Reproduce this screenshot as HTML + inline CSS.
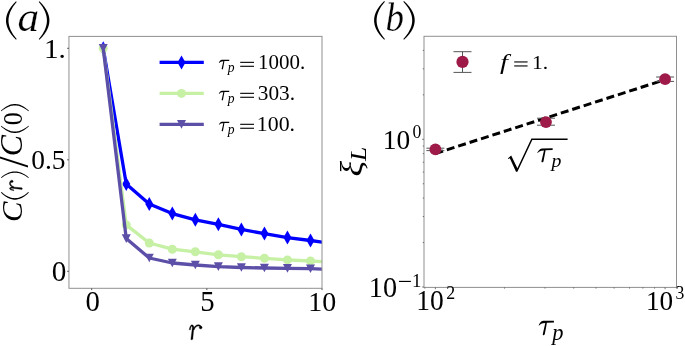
<!DOCTYPE html>
<html><head><meta charset="utf-8"><style>
html,body{margin:0;padding:0;background:#fff;width:685px;height:346px;overflow:hidden}
svg{display:block;font-family:"Liberation Serif",serif}
.t{filter:grayscale(1)}
#pa_a text,#pb_b text{stroke:#fff;stroke-width:0.6px;vector-effect:non-scaling-stroke}
</style></head><body>
<svg width="685" height="346" viewBox="0 0 685 346">
<rect width="685" height="346" fill="#fff"/>
<path d="M16.00,1.30 L14.62,2.67 L13.35,4.04 L12.17,5.41 L11.10,6.79 L10.13,8.16 L9.27,9.53 L8.50,10.90 L7.84,12.27 L7.28,13.64 L6.82,15.01 L6.46,16.39 L6.20,17.76 L6.05,19.13 L6.00,20.50 L6.05,21.87 L6.20,23.24 L6.46,24.61 L6.82,25.99 L7.28,27.36 L7.84,28.73 L8.50,30.10 L9.27,31.47 L10.13,32.84 L11.10,34.21 L12.17,35.59 L13.35,36.96 L14.62,38.33 L16.00,39.70 L16.69,38.98 L15.46,37.52 L14.34,36.07 L13.33,34.64 L12.43,33.23 L11.63,31.84 L10.93,30.48 L10.33,29.15 L9.82,27.84 L9.40,26.57 L9.07,25.31 L8.82,24.09 L8.64,22.88 L8.53,21.69 L8.50,20.50 L8.53,19.31 L8.64,18.12 L8.82,16.91 L9.07,15.69 L9.40,14.43 L9.82,13.16 L10.33,11.85 L10.93,10.52 L11.63,9.16 L12.43,7.77 L13.33,6.36 L14.34,4.93 L15.46,3.48 L16.69,2.02 Z" fill="#000"/><path d="M39.50,1.30 L40.86,2.67 L42.13,4.04 L43.29,5.41 L44.35,6.79 L45.31,8.16 L46.17,9.53 L46.92,10.90 L47.58,12.27 L48.14,13.64 L48.59,15.01 L48.95,16.39 L49.20,17.76 L49.35,19.13 L49.40,20.50 L49.35,21.87 L49.20,23.24 L48.95,24.61 L48.59,25.99 L48.14,27.36 L47.58,28.73 L46.92,30.10 L46.17,31.47 L45.31,32.84 L44.35,34.21 L43.29,35.59 L42.13,36.96 L40.86,38.33 L39.50,39.70 L38.80,38.98 L40.02,37.52 L41.13,36.07 L42.13,34.64 L43.02,33.24 L43.81,31.85 L44.50,30.49 L45.09,29.16 L45.59,27.85 L46.01,26.57 L46.34,25.32 L46.59,24.09 L46.76,22.88 L46.87,21.69 L46.90,20.50 L46.87,19.31 L46.76,18.12 L46.59,16.91 L46.34,15.68 L46.01,14.43 L45.59,13.15 L45.09,11.84 L44.50,10.51 L43.81,9.15 L43.02,7.76 L42.13,6.36 L41.13,4.93 L40.02,3.48 L38.80,2.02 Z" fill="#000"/><path d="M384.20,1.00 L382.81,2.38 L381.52,3.76 L380.34,5.15 L379.25,6.53 L378.27,7.91 L377.40,9.29 L376.62,10.68 L375.96,12.06 L375.39,13.44 L374.92,14.82 L374.56,16.20 L374.31,17.59 L374.15,18.97 L374.10,20.35 L374.15,21.73 L374.31,23.11 L374.56,24.50 L374.92,25.88 L375.39,27.26 L375.96,28.64 L376.62,30.03 L377.40,31.41 L378.27,32.79 L379.25,34.17 L380.34,35.55 L381.52,36.94 L382.81,38.32 L384.20,39.70 L384.89,38.98 L383.65,37.50 L382.51,36.05 L381.49,34.61 L380.58,33.18 L379.77,31.79 L379.06,30.42 L378.45,29.07 L377.94,27.76 L377.52,26.47 L377.18,25.21 L376.92,23.97 L376.74,22.75 L376.64,21.55 L376.60,20.35 L376.64,19.15 L376.74,17.95 L376.92,16.73 L377.18,15.49 L377.52,14.23 L377.94,12.94 L378.45,11.63 L379.06,10.28 L379.77,8.91 L380.58,7.52 L381.49,6.09 L382.51,4.65 L383.65,3.20 L384.89,1.72 Z" fill="#000"/><path d="M404.00,1.00 L405.47,2.38 L406.84,3.76 L408.09,5.15 L409.24,6.53 L410.28,7.91 L411.21,9.29 L412.02,10.68 L412.73,12.06 L413.34,13.44 L413.83,14.82 L414.21,16.20 L414.48,17.59 L414.65,18.97 L414.70,20.35 L414.65,21.73 L414.48,23.11 L414.21,24.50 L413.83,25.88 L413.34,27.26 L412.73,28.64 L412.02,30.03 L411.21,31.41 L410.28,32.79 L409.24,34.17 L408.09,35.55 L406.84,36.94 L405.47,38.32 L404.00,39.70 L403.33,38.96 L404.66,37.48 L405.87,36.02 L406.97,34.57 L407.95,33.15 L408.81,31.75 L409.57,30.37 L410.22,29.03 L410.77,27.71 L411.22,26.43 L411.58,25.17 L411.86,23.94 L412.05,22.73 L412.16,21.54 L412.20,20.35 L412.16,19.16 L412.05,17.97 L411.86,16.76 L411.58,15.53 L411.22,14.27 L410.77,12.99 L410.22,11.67 L409.57,10.33 L408.81,8.95 L407.95,7.55 L406.97,6.13 L405.87,4.68 L404.66,3.22 L403.33,1.74 Z" fill="#000"/>
<defs><clipPath id="ca"><rect x="69" y="36.4" width="253" height="252"/></clipPath></defs>
<g clip-path="url(#ca)" stroke-linejoin="round">
<polyline points="103.22,48.30 126.25,184.00 149.28,204.00 172.31,213.60 195.34,219.80 218.37,224.30 241.39,229.40 264.43,233.60 287.45,237.60 310.49,240.50 333.51,243.60" fill="none" stroke="#0000ff" stroke-width="3.3"/>
<path d="M103.22,41.30 L107.22,48.30 L103.22,55.30 L99.22,48.30Z" fill="#0000ff"/>
<path d="M126.25,177.00 L130.25,184.00 L126.25,191.00 L122.25,184.00Z" fill="#0000ff"/>
<path d="M149.28,197.00 L153.28,204.00 L149.28,211.00 L145.28,204.00Z" fill="#0000ff"/>
<path d="M172.31,206.60 L176.31,213.60 L172.31,220.60 L168.31,213.60Z" fill="#0000ff"/>
<path d="M195.34,212.80 L199.34,219.80 L195.34,226.80 L191.34,219.80Z" fill="#0000ff"/>
<path d="M218.37,217.30 L222.37,224.30 L218.37,231.30 L214.37,224.30Z" fill="#0000ff"/>
<path d="M241.39,222.40 L245.39,229.40 L241.39,236.40 L237.39,229.40Z" fill="#0000ff"/>
<path d="M264.43,226.60 L268.43,233.60 L264.43,240.60 L260.43,233.60Z" fill="#0000ff"/>
<path d="M287.45,230.60 L291.45,237.60 L287.45,244.60 L283.45,237.60Z" fill="#0000ff"/>
<path d="M310.49,233.50 L314.49,240.50 L310.49,247.50 L306.49,240.50Z" fill="#0000ff"/>
<path d="M333.51,236.60 L337.51,243.60 L333.51,250.60 L329.51,243.60Z" fill="#0000ff"/>
<polyline points="103.22,48.30 126.25,224.90 149.28,243.00 172.31,249.20 195.34,251.80 218.37,254.80 241.39,256.70 264.43,258.30 287.45,259.90 310.49,261.00 333.51,262.40" fill="none" stroke="#c6f0a4" stroke-width="3.3"/>
<circle cx="103.22" cy="48.30" r="4.5" fill="#c6f0a4"/>
<circle cx="126.25" cy="224.90" r="4.5" fill="#c6f0a4"/>
<circle cx="149.28" cy="243.00" r="4.5" fill="#c6f0a4"/>
<circle cx="172.31" cy="249.20" r="4.5" fill="#c6f0a4"/>
<circle cx="195.34" cy="251.80" r="4.5" fill="#c6f0a4"/>
<circle cx="218.37" cy="254.80" r="4.5" fill="#c6f0a4"/>
<circle cx="241.39" cy="256.70" r="4.5" fill="#c6f0a4"/>
<circle cx="264.43" cy="258.30" r="4.5" fill="#c6f0a4"/>
<circle cx="287.45" cy="259.90" r="4.5" fill="#c6f0a4"/>
<circle cx="310.49" cy="261.00" r="4.5" fill="#c6f0a4"/>
<circle cx="333.51" cy="262.40" r="4.5" fill="#c6f0a4"/>
<polyline points="103.22,48.30 126.25,238.60 149.28,258.00 172.31,263.00 195.34,265.00 218.37,266.60 241.39,267.50 264.43,268.00 287.45,268.40 310.49,268.70 333.51,269.60" fill="none" stroke="#5c4fa8" stroke-width="3.3"/>
<path d="M98.72,44.00 L107.72,44.00 L103.22,52.60Z" fill="#5c4fa8"/>
<path d="M121.75,234.30 L130.75,234.30 L126.25,242.90Z" fill="#5c4fa8"/>
<path d="M144.78,253.70 L153.78,253.70 L149.28,262.30Z" fill="#5c4fa8"/>
<path d="M167.81,258.70 L176.81,258.70 L172.31,267.30Z" fill="#5c4fa8"/>
<path d="M190.84,260.70 L199.84,260.70 L195.34,269.30Z" fill="#5c4fa8"/>
<path d="M213.87,262.30 L222.87,262.30 L218.37,270.90Z" fill="#5c4fa8"/>
<path d="M236.89,263.20 L245.89,263.20 L241.39,271.80Z" fill="#5c4fa8"/>
<path d="M259.93,263.70 L268.93,263.70 L264.43,272.30Z" fill="#5c4fa8"/>
<path d="M282.95,264.10 L291.95,264.10 L287.45,272.70Z" fill="#5c4fa8"/>
<path d="M305.99,264.40 L314.99,264.40 L310.49,273.00Z" fill="#5c4fa8"/>
<path d="M329.01,265.30 L338.01,265.30 L333.51,273.90Z" fill="#5c4fa8"/>
</g>
<rect x="68.95" y="36.4" width="253.05" height="251.9" fill="none" stroke="#909090" stroke-width="1"/>
<path d="M91.70,288.3 v1.8 M206.85,288.3 v1.8 M322.00,288.3 v1.8 M68.95,271.30 h-1.8 M68.95,159.80 h-1.8 M68.95,48.30 h-1.8" stroke="#555" stroke-width="1"/>
<line x1="159.6" y1="62.40" x2="203.8" y2="62.40" stroke="#0000ff" stroke-width="3.3"/>
<path d="M181.50,55.40 L185.50,62.40 L181.50,69.40 L177.50,62.40Z" fill="#0000ff"/>
<line x1="159.6" y1="93.38" x2="203.8" y2="93.38" stroke="#c6f0a4" stroke-width="3.3"/>
<circle cx="181.50" cy="93.38" r="4.5" fill="#c6f0a4"/>
<line x1="159.6" y1="124.36" x2="203.8" y2="124.36" stroke="#5c4fa8" stroke-width="3.3"/>
<path d="M177.00,120.06 L186.00,120.06 L181.50,128.66Z" fill="#5c4fa8"/>
<rect x="424.0" y="36.3" width="252.5" height="251.09999999999997" fill="none" stroke="#909090" stroke-width="1"/>
<path d="M424.89,287.4 v1.2 M435.40,287.4 v1.8 M504.55,287.4 v1.2 M544.99,287.4 v1.2 M573.69,287.4 v1.2 M595.95,287.4 v1.2 M614.14,287.4 v1.2 M629.52,287.4 v1.2 M642.84,287.4 v1.2 M654.59,287.4 v1.2 M665.10,287.4 v1.8 M424.0,287.00 h-1.8 M424.0,242.54 h-1.2 M424.0,216.53 h-1.2 M424.0,198.08 h-1.2 M424.0,183.76 h-1.2 M424.0,172.07 h-1.2 M424.0,162.18 h-1.2 M424.0,153.61 h-1.2 M424.0,146.06 h-1.2 M424.0,139.30 h-1.8 M424.0,94.84 h-1.2 M424.0,68.83 h-1.2 M424.0,50.38 h-1.2" stroke="#555" stroke-width="0.8"/>
<line x1="435.40" y1="153.50" x2="665.10" y2="79.65" stroke="#000" stroke-width="3" stroke-dasharray="8.0,3.98"/>
<path d="M426.40,148.2 h18 M426.40,150.6 h18 M435.40,148.2 V150.6" stroke="#555" stroke-width="1" fill="none"/>
<circle cx="435.40" cy="149.30" r="5.9" fill="#9e1a48"/>
<path d="M536.99,118.2 h18 M536.99,125.2 h18 M545.99,118.2 V125.2" stroke="#555" stroke-width="1" fill="none"/>
<circle cx="545.99" cy="122.10" r="5.9" fill="#9e1a48"/>
<path d="M656.10,77.0 h18 M656.10,81.4 h18 M665.10,77.0 V81.4" stroke="#555" stroke-width="1" fill="none"/>
<circle cx="665.10" cy="79.20" r="5.9" fill="#9e1a48"/>
<path d="M453.5,51.7 h18 M453.5,72.4 h18 M462.5,51.7 V72.4" stroke="#555" stroke-width="1" fill="none"/>
<circle cx="462.50" cy="61.90" r="6.1" fill="#9e1a48"/>
<rect x="399.0" y="280.85" width="11.9" height="1.15" fill="#000"/>
<rect x="240.2" y="61.80" width="13.8" height="1.1" fill="#000"/><rect x="240.2" y="65.75" width="13.8" height="1.1" fill="#000"/>
<rect x="240.2" y="92.78" width="13.8" height="1.1" fill="#000"/><rect x="240.2" y="96.73" width="13.8" height="1.1" fill="#000"/>
<rect x="240.2" y="123.76" width="13.8" height="1.1" fill="#000"/><rect x="240.2" y="127.71" width="13.8" height="1.1" fill="#000"/>
<rect x="514.2" y="61.4" width="13.4" height="1.1" fill="#000"/><rect x="514.2" y="65.4" width="13.4" height="1.1" fill="#000"/>
<path d="M507.8,158.4 L511.2,155.6 L517.4,168.2 L531.4,138.6 L567.6,138.6 L567.6,140.1 L532.3,140.1 L517.4,171.7 L516.0,171.7 L509.8,158.2 L508.4,159.0 Z" fill="#000"/>
<g class="t"><g id="pa_a" transform="translate(17.602,30.806) scale(0.4326,0.3937)"><text font-size="100" ><tspan font-style="italic">a</tspan></text></g>
<g id="pb_b" transform="translate(385.621,30.810) scale(0.3698,0.3900)"><text font-size="100" ><tspan font-style="italic">b</tspan></text></g>
<g id="ya1" transform="translate(43.976,57.728) scale(0.2915,0.2716)"><text font-size="100" >1.</text></g>
<g id="ya05" transform="translate(31.303,168.742) scale(0.2744,0.2791)"><text font-size="100" >0.5</text></g>
<g id="ya0" transform="translate(51.629,280.909) scale(0.2929,0.2955)"><text font-size="100" >0</text></g>
<g id="xa0" transform="translate(85.448,310.921) scale(0.2881,0.2896)"><text font-size="100" >0</text></g>
<g id="xa5" transform="translate(200.175,310.903) scale(0.2875,0.2970)"><text font-size="100" >5</text></g>
<g id="xa10" transform="translate(308.286,310.738) scale(0.2793,0.2809)"><text font-size="100" >10</text></g>
<g id="xlab_a" transform="translate(189.100,324.600) scale(0.1553,0.1594)"><g stroke="#000" stroke-width="0.3" stroke-linejoin="round"><g transform="scale(6.6)"><path d="M0.1,4.9 C0.5,2.8 1.4,0.2 2.7,0.2 C3.9,0.2 4.6,1.3 4.7,2.4 L3.6,14.0 C3.4,14.5 2.0,14.6 1.7,14.2 L3.1,3.2 C3.2,2.2 2.9,1.5 2.5,1.5 C2.0,1.5 1.6,2.8 1.3,4.9 Z M4.1,4.3 C5.1,1.8 6.8,0.1 8.8,0.1 C10.0,0.1 11.1,0.5 11.7,1.3 L11.1,2.2 C10.5,1.7 9.8,1.4 8.8,1.4 C7.4,1.4 5.8,2.9 4.7,5.3 Z"/><circle cx="11.3" cy="2.8" r="1.4"/></g></g></g>
<g id="yl_C1" transform="translate(22.203,222.039) rotate(-90) scale(0.3065,0.2970)"><text font-size="100" ><tspan font-style="italic">C</tspan></text></g>
<g id="yl_p1" transform="translate(0.900,199.700) rotate(-90) scale(0.2679,0.2800)"><path d="M27.00,0.00 L23.28,3.57 L19.84,7.14 L16.67,10.71 L13.78,14.29 L11.16,17.86 L8.82,21.43 L6.75,25.00 L4.96,28.57 L3.44,32.14 L2.20,35.71 L1.24,39.29 L0.55,42.86 L0.14,46.43 L0.00,50.00 L0.14,53.57 L0.55,57.14 L1.24,60.71 L2.20,64.29 L3.44,67.86 L4.96,71.43 L6.75,75.00 L8.82,78.57 L11.16,82.14 L13.78,85.71 L16.67,89.29 L19.84,92.86 L23.28,96.43 L27.00,100.00 L28.90,97.95 L25.49,94.21 L22.38,90.50 L19.56,86.83 L17.02,83.21 L14.77,79.64 L12.79,76.12 L11.08,72.66 L9.63,69.27 L8.43,65.94 L7.46,62.66 L6.73,59.44 L6.21,56.27 L5.90,53.13 L5.80,50.00 L5.90,46.87 L6.21,43.73 L6.73,40.56 L7.46,37.34 L8.43,34.06 L9.63,30.73 L11.08,27.34 L12.79,23.88 L14.77,20.36 L17.02,16.79 L19.56,13.17 L22.38,9.50 L25.49,5.79 L28.90,2.05 Z" fill="#000"/></g>
<g id="yl_r" transform="translate(9.336,190.872) rotate(-90) scale(0.1279,0.1357)"><g stroke="#000" stroke-width="0.4" stroke-linejoin="round"><g transform="scale(6.6)"><path d="M0.1,4.9 C0.5,2.8 1.4,0.2 2.7,0.2 C3.9,0.2 4.6,1.3 4.7,2.4 L3.6,14.0 C3.4,14.5 2.0,14.6 1.7,14.2 L3.1,3.2 C3.2,2.2 2.9,1.5 2.5,1.5 C2.0,1.5 1.6,2.8 1.3,4.9 Z M4.1,4.3 C5.1,1.8 6.8,0.1 8.8,0.1 C10.0,0.1 11.1,0.5 11.7,1.3 L11.1,2.2 C10.5,1.7 9.8,1.4 8.8,1.4 C7.4,1.4 5.8,2.9 4.7,5.3 Z"/><circle cx="11.3" cy="2.8" r="1.4"/></g></g></g>
<g id="yl_p2" transform="translate(0.900,177.475) rotate(-90) scale(0.2250,0.2800)"><path d="M0.00,0.00 L3.72,3.57 L7.16,7.14 L10.33,10.71 L13.22,14.29 L15.84,17.86 L18.18,21.43 L20.25,25.00 L22.04,28.57 L23.56,32.14 L24.80,35.71 L25.76,39.29 L26.45,42.86 L26.86,46.43 L27.00,50.00 L26.86,53.57 L26.45,57.14 L25.76,60.71 L24.80,64.29 L23.56,67.86 L22.04,71.43 L20.25,75.00 L18.18,78.57 L15.84,82.14 L13.22,85.71 L10.33,89.29 L7.16,92.86 L3.72,96.43 L0.00,100.00 L-1.90,97.95 L1.51,94.21 L4.62,90.50 L7.44,86.83 L9.98,83.21 L12.23,79.64 L14.21,76.12 L15.92,72.66 L17.37,69.27 L18.57,65.94 L19.54,62.66 L20.27,59.44 L20.79,56.27 L21.10,53.13 L21.20,50.00 L21.10,46.87 L20.79,43.73 L20.27,40.56 L19.54,37.34 L18.57,34.06 L17.37,30.73 L15.92,27.34 L14.21,23.88 L12.23,20.36 L9.98,16.79 L7.44,13.17 L4.62,9.50 L1.51,5.79 L-1.90,2.05 Z" fill="#000"/></g>
<g id="yl_sl" transform="translate(28.480,167.600) rotate(-90) scale(0.3929,0.4197)"><text font-size="100" >/</text></g>
<g id="yl_C2" transform="translate(22.194,156.206) rotate(-90) scale(0.3177,0.3061)"><text font-size="100" ><tspan font-style="italic">C</tspan></text></g>
<g id="yl_p3" transform="translate(0.900,133.000) rotate(-90) scale(0.2500,0.2800)"><path d="M27.00,0.00 L23.28,3.57 L19.84,7.14 L16.67,10.71 L13.78,14.29 L11.16,17.86 L8.82,21.43 L6.75,25.00 L4.96,28.57 L3.44,32.14 L2.20,35.71 L1.24,39.29 L0.55,42.86 L0.14,46.43 L0.00,50.00 L0.14,53.57 L0.55,57.14 L1.24,60.71 L2.20,64.29 L3.44,67.86 L4.96,71.43 L6.75,75.00 L8.82,78.57 L11.16,82.14 L13.78,85.71 L16.67,89.29 L19.84,92.86 L23.28,96.43 L27.00,100.00 L28.90,97.95 L25.49,94.21 L22.38,90.50 L19.56,86.83 L17.02,83.21 L14.77,79.64 L12.79,76.12 L11.08,72.66 L9.63,69.27 L8.43,65.94 L7.46,62.66 L6.73,59.44 L6.21,56.27 L5.90,53.13 L5.80,50.00 L5.90,46.87 L6.21,43.73 L6.73,40.56 L7.46,37.34 L8.43,34.06 L9.63,30.73 L11.08,27.34 L12.79,23.88 L14.77,20.36 L17.02,16.79 L19.56,13.17 L22.38,9.50 L25.49,5.79 L28.90,2.05 Z" fill="#000"/></g>
<g id="yl_0" transform="translate(21.948,125.348) rotate(-90) scale(0.2619,0.2761)"><text font-size="100" >0</text></g>
<g id="yl_p4" transform="translate(0.900,110.750) rotate(-90) scale(0.2500,0.2800)"><path d="M0.00,0.00 L3.72,3.57 L7.16,7.14 L10.33,10.71 L13.22,14.29 L15.84,17.86 L18.18,21.43 L20.25,25.00 L22.04,28.57 L23.56,32.14 L24.80,35.71 L25.76,39.29 L26.45,42.86 L26.86,46.43 L27.00,50.00 L26.86,53.57 L26.45,57.14 L25.76,60.71 L24.80,64.29 L23.56,67.86 L22.04,71.43 L20.25,75.00 L18.18,78.57 L15.84,82.14 L13.22,85.71 L10.33,89.29 L7.16,92.86 L3.72,96.43 L0.00,100.00 L-1.90,97.95 L1.51,94.21 L4.62,90.50 L7.44,86.83 L9.98,83.21 L12.23,79.64 L14.21,76.12 L15.92,72.66 L17.37,69.27 L18.57,65.94 L19.54,62.66 L20.27,59.44 L20.79,56.27 L21.10,53.13 L21.20,50.00 L21.10,46.87 L20.79,43.73 L20.27,40.56 L19.54,37.34 L18.57,34.06 L17.37,30.73 L15.92,27.34 L14.21,23.88 L12.23,20.36 L9.98,16.79 L7.44,13.17 L4.62,9.50 L1.51,5.79 L-1.90,2.05 Z" fill="#000"/></g>
<g id="lt0" transform="translate(218.800,59.598) scale(0.1040,0.1021)"><path transform="scale(6.6)" d="M0,4.9 C0.8,3.2 2.2,0.6 4.6,0.4 L15.2,0.2 L15.2,2.1 L8.2,2.25 C7.7,5.5 6.9,9.5 6.2,13.2 C6.0,14.2 5.5,14.6 5.0,14.6 C4.3,14.6 4.0,14.0 4.2,13.3 C4.9,10 5.9,6 6.6,2.6 L4.4,2.7 C3.0,2.8 1.6,3.6 0.5,5.0 Z"/></g>
<g id="lp0" transform="translate(227.715,72.474) scale(0.1358,0.1441)"><text font-size="100" ><tspan font-style="italic">p</tspan></text></g>
<g id="lt1" transform="translate(218.800,90.548) scale(0.1040,0.1021)"><path transform="scale(6.6)" d="M0,4.9 C0.8,3.2 2.2,0.6 4.6,0.4 L15.2,0.2 L15.2,2.1 L8.2,2.25 C7.7,5.5 6.9,9.5 6.2,13.2 C6.0,14.2 5.5,14.6 5.0,14.6 C4.3,14.6 4.0,14.0 4.2,13.3 C4.9,10 5.9,6 6.6,2.6 L4.4,2.7 C3.0,2.8 1.6,3.6 0.5,5.0 Z"/></g>
<g id="lp1" transform="translate(227.715,103.424) scale(0.1358,0.1441)"><text font-size="100" ><tspan font-style="italic">p</tspan></text></g>
<g id="lt2" transform="translate(218.800,121.498) scale(0.1040,0.1021)"><path transform="scale(6.6)" d="M0,4.9 C0.8,3.2 2.2,0.6 4.6,0.4 L15.2,0.2 L15.2,2.1 L8.2,2.25 C7.7,5.5 6.9,9.5 6.2,13.2 C6.0,14.2 5.5,14.6 5.0,14.6 C4.3,14.6 4.0,14.0 4.2,13.3 C4.9,10 5.9,6 6.6,2.6 L4.4,2.7 C3.0,2.8 1.6,3.6 0.5,5.0 Z"/></g>
<g id="lp2" transform="translate(227.715,134.374) scale(0.1358,0.1441)"><text font-size="100" ><tspan font-style="italic">p</tspan></text></g>
<g id="ln0" transform="translate(258.114,69.291) scale(0.2096,0.2044)"><text font-size="100" >1000.</text></g>
<g id="ln1" transform="translate(257.736,100.479) scale(0.2129,0.2104)"><text font-size="100" >303.</text></g>
<g id="ln2" transform="translate(256.836,131.291) scale(0.2182,0.2044)"><text font-size="100" >100.</text></g>
<g id="lf" transform="translate(500.013,69.417) scale(0.2868,0.2087)"><text font-size="100" ><tspan font-style="italic">f</tspan></text></g>
<g id="lf1" transform="translate(532.063,68.804) scale(0.2153,0.1955)"><text font-size="100" >1.</text></g>
<g id="sq_t" transform="translate(537.300,148.053) scale(0.1530,0.1474)"><path transform="scale(6.6)" d="M0,4.9 C0.8,3.2 2.2,0.6 4.6,0.4 L15.2,0.2 L15.2,2.1 L8.2,2.25 C7.7,5.5 6.9,9.5 6.2,13.2 C6.0,14.2 5.5,14.6 5.0,14.6 C4.3,14.6 4.0,14.0 4.2,13.3 C4.9,10 5.9,6 6.6,2.6 L4.4,2.7 C3.0,2.8 1.6,3.6 0.5,5.0 Z"/></g>
<g id="sq_p" transform="translate(551.389,166.962) scale(0.1981,0.1971)"><text font-size="100" ><tspan font-style="italic">p</tspan></text></g>
<g id="yb0" transform="translate(382.735,149.043) scale(0.2738,0.2783)"><text font-size="100" >10<tspan font-size="65" dy="-38" dx="9">0</tspan></text></g>
<g id="yb1a" transform="translate(368.755,297.029) scale(0.2828,0.2853)"><text font-size="100" >10</text></g>
<g id="yb1c" transform="translate(412.103,286.600) scale(0.1886,0.1848)"><text font-size="100" >1</text></g>
<g id="xb2" transform="translate(416.223,309.919) scale(0.2752,0.2904)"><text font-size="100" >10<tspan font-size="65" dy="-38" dx="9">2</tspan></text></g>
<g id="xb3" transform="translate(645.949,309.934) scale(0.2723,0.2831)"><text font-size="100" >10<tspan font-size="65" dy="-38" dx="9">3</tspan></text></g>
<g id="xlab_bt" transform="translate(538.600,320.446) scale(0.1530,0.1537)"><path transform="scale(6.6)" d="M0,4.9 C0.8,3.2 2.2,0.6 4.6,0.4 L15.2,0.2 L15.2,2.1 L8.2,2.25 C7.7,5.5 6.9,9.5 6.2,13.2 C6.0,14.2 5.5,14.6 5.0,14.6 C4.3,14.6 4.0,14.0 4.2,13.3 C4.9,10 5.9,6 6.6,2.6 L4.4,2.7 C3.0,2.8 1.6,3.6 0.5,5.0 Z"/></g>
<g id="xlab_bp" transform="translate(552.247,339.806) scale(0.2245,0.2235)"><text font-size="100" ><tspan font-style="italic">p</tspan></text></g>
<g id="ylab_b" transform="translate(361.645,176.592) rotate(-90) scale(0.3640,0.3253)"><text font-size="100" ><tspan font-style="italic">ξ</tspan><tspan font-size="70" dy="14" font-style="italic">L</tspan></text></g></g>
</svg>
</body></html>
